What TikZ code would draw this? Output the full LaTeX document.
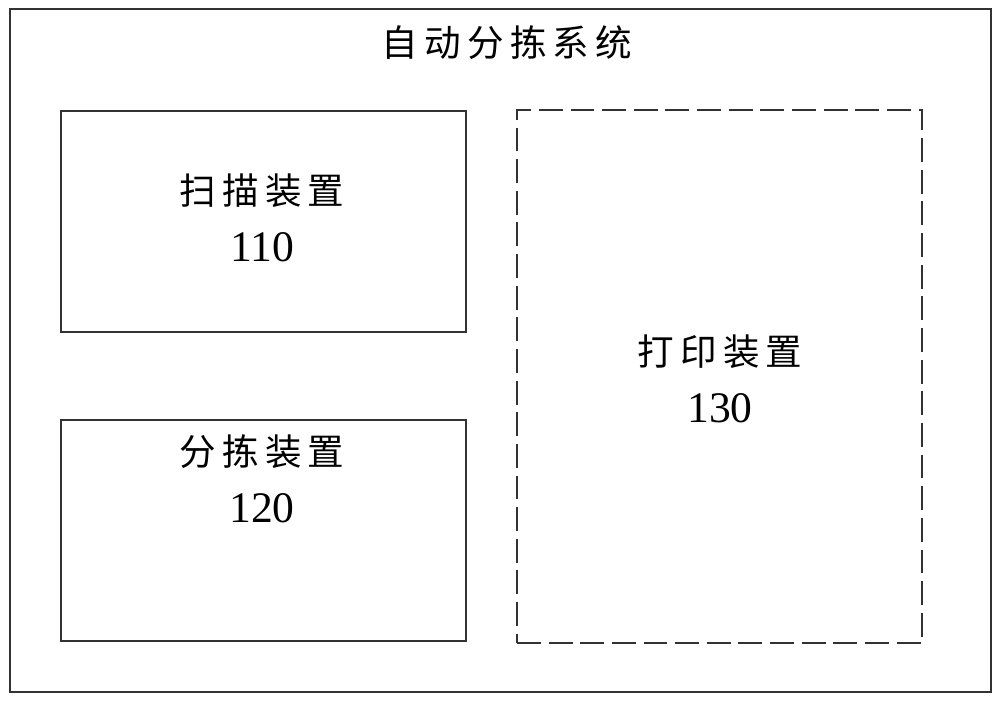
\documentclass[tikz,border=0pt]{standalone}
\usepackage{fontspec}
\setmainfont{Liberation Serif}
\newfontfamily\cjk[LetterSpace=17]{Noto Sans CJK SC}
\usetikzlibrary{fit,positioning}
\definecolor{framegray}{RGB}{50,50,50}

\begin{document}
\begin{tikzpicture}[x=0.025cm, y=-0.025cm,
  box/.style={draw=framegray, line width=1.6pt, rectangle, inner sep=0pt},
  dashbox/.style={box, dash pattern=on 17pt off 5.5pt},
  cntext/.style={font=\cjk\fontsize{26}{30}\selectfont, inner sep=0pt},
  numtext/.style={font=\fontsize{31}{34}\selectfont, inner sep=0pt}]
  \useasboundingbox (0,0) rectangle (1000,704);
  \node[box, fit={(10,9) (991,692)}] (system) {};
  \node[cntext] (systitle) at (507,43) {自动分拣系统};

  \node[box, fit={(61,111) (466,332)}] (scanner) {};
  \node[cntext] (scanname) at (262,191) {扫描装置};
  \node[numtext, below=17pt of scanname] (scannum) {110};

  \node[box, fit={(61,420) (466,641)}] (sorter) {};
  \node[cntext] (sortname) at (262,452) {分拣装置};
  \node[numtext, below=17pt of sortname] (sortnum) {120};

  \node[dashbox, fit={(517,110) (922,643)}] (printer) {};
  \node[cntext] (printname) at (720,352) {打印装置};
  \node[numtext, below=17pt of printname] (printnum) {130};
\end{tikzpicture}
\end{document}
